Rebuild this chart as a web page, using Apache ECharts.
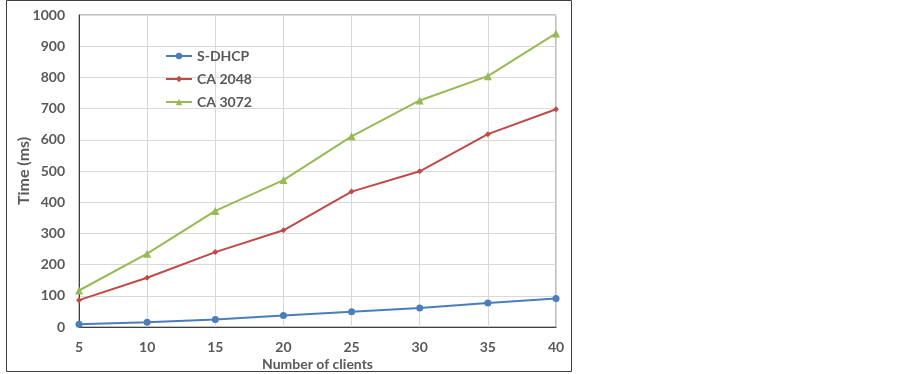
<!DOCTYPE html>
<html>
<head>
<meta charset="utf-8">
<script src="https://cdn.jsdelivr.net/npm/echarts@6/dist/echarts.min.js"></script>
<style>
  html, body { margin: 0; padding: 0; background: #fff; }
  #chart { width: 903px; height: 374px; }
</style>
</head>
<body>
<div id="chart"></div>
<script>
// clients on the x axis
var clients = [5, 10, 15, 20, 25, 30, 35, 40];
// time in ms
var sdhcp  = [9, 15, 24, 37, 49, 61, 77, 91];
var ca2048 = [86, 158, 240, 310, 434, 499, 618, 698];
var ca3072 = [117, 235, 372, 471, 611, 726, 804, 941];

var txt = '#595959';
var font = 'Lato, "Open Sans", sans-serif';

function pairs(arr){
	var out = [];
	for(var i=0;i<clients.length;i++){
		out.push([clients[i], arr[i]]);
	}
	return out;
}

var myChart = echarts.init(document.getElementById('chart'));
var option = {
	animation: false,
	textStyle: { fontFamily: font },
	graphic: [{
		type: 'rect',
		shape: { x: 6.5, y: 0.5, width: 565, height: 371 },
		style: { fill: null, stroke: '#404040', lineWidth: 1 },
		silent: true
	}],
	legend: {
		orient: 'vertical',
		left: 160,
		top: 44,
		itemWidth: 26,
		itemHeight: 8,
		itemGap: 9,
		textStyle: { color: txt, fontWeight: 'bold', fontSize: 14, fontFamily: font },
		data: ['S-DHCP', 'CA 2048', 'CA 3072']
	},
	grid: {
		left: 79, right: 347, top: 15, bottom: 47,
		outerBoundsMode: 'none',
		containLabel: false,
		show: true,
		borderColor: '#808080',
		borderWidth: 1
	},
	xAxis: {
		type: 'value',
		min: 5, max: 40, interval: 5,
		name: 'Number of clients',
		nameLocation: 'middle',
		nameGap: 30,
		nameMoveOverlap: false,
		nameTextStyle: { color: txt, fontWeight: 'bold', fontSize: 14 },
		axisLine: { lineStyle: { color: '#404040', width: 1 } },
		axisTick: { show: false },
		axisLabel: { color: txt, fontWeight: 'bold', fontSize: 14, margin: 13 },
		splitLine: { lineStyle: { color: '#d9d9d9' } }
	},
	yAxis: {
		type: 'value',
		min: 0, max: 1000, interval: 100,
		name: 'Time (ms)',
		nameLocation: 'middle',
		nameGap: 47,
		nameMoveOverlap: false,
		nameTextStyle: { color: txt, fontWeight: 'bold', fontSize: 16 },
		axisLine: { show: true, lineStyle: { color: '#404040', width: 1 } },
		axisTick: { show: false },
		axisLabel: { color: txt, fontWeight: 'bold', fontSize: 14, margin: 14, formatter: function(v){ return String(v); } },
		splitLine: { lineStyle: { color: '#d9d9d9' } }
	},
	series: [
		{
			name: 'S-DHCP',
			type: 'line',
			data: pairs(sdhcp),
			symbol: 'circle',
			symbolSize: 7,
			itemStyle: { color: '#4a7ebb' },
			lineStyle: { width: 2, color: '#4a7ebb' }
		},{
			name: 'CA 2048',
			type: 'line',
			data: pairs(ca2048),
			symbol: 'diamond',
			symbolSize: 6,
			itemStyle: { color: '#be4b48' },
			lineStyle: { width: 2, color: '#be4b48' }
		},{
			name: 'CA 3072',
			type: 'line',
			data: pairs(ca3072),
			symbol: 'triangle',
			symbolSize: 8,
			itemStyle: { color: '#98b954' },
			lineStyle: { width: 2, color: '#98b954' }
		}
	]
};
myChart.setOption(option);
</script>
</body>
</html>
